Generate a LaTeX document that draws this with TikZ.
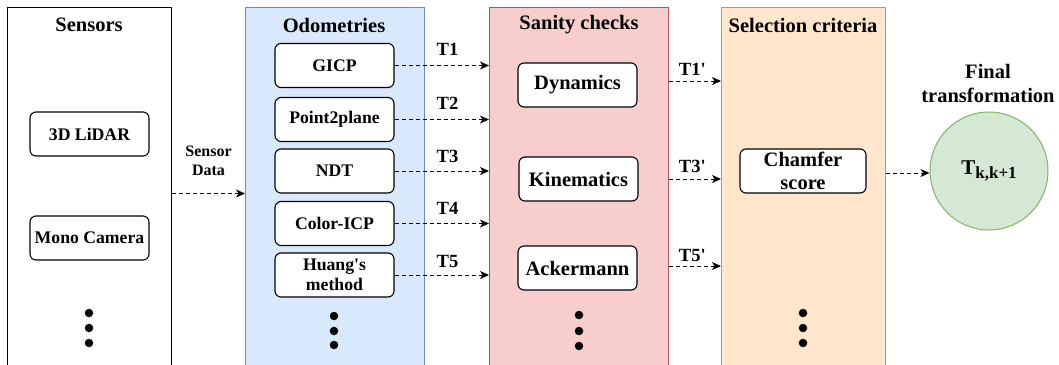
\documentclass[tikz,border=0pt]{standalone}
\usepackage{fontspec}
\setmainfont{Liberation Serif}[Ligatures=TeXOff]
\usetikzlibrary{arrows.meta}
\definecolor{bluefill}{HTML}{DAE8FC}\definecolor{bluedraw}{HTML}{6C8EBF}
\definecolor{redfill}{HTML}{F8CECC}\definecolor{reddraw}{HTML}{B85450}
\definecolor{orfill}{HTML}{FFE6CC}\definecolor{ordraw}{HTML}{D79B00}
\definecolor{grfill}{HTML}{D5E8D4}\definecolor{grdraw}{HTML}{82B366}
\tikzset{
  container/.style={draw, line width=1pt, anchor=north west, minimum height=372pt, inner sep=0pt},
  titletext/.style={font=\fontsize{20.5}{24}\selectfont\bfseries, inner sep=0pt},
  smallbox/.style={draw, line width=1.1pt, rounded corners=6pt, fill=white, minimum width=119pt, minimum height=44pt, inner sep=0pt, align=center, font=\fontsize{17.7}{20}\selectfont\bfseries},
  bigbox/.style={smallbox, font=\fontsize{20.5}{23}\selectfont\bfseries},
  arr/.style={-{Stealth[length=9pt,width=8pt,inset=2.5pt]}, dash pattern=on 4pt off 3pt, line width=1pt},
  lab/.style={font=\fontsize{18.6}{20}\selectfont\bfseries, inner sep=0pt},
  dotnode/.style={circle, fill=black, minimum size=8.5pt, inner sep=0pt}
}
\begin{document}
\begin{tikzpicture}[x=1pt, y=-1pt]
\useasboundingbox (0,0) rectangle (1059,364);
% containers
\node[container, fill=white, draw=black, minimum width=164pt] (sens) at (7,7) {};
\node[container, fill=bluefill, draw=bluedraw, minimum width=179pt] (odo) at (245,7) {};
\node[container, fill=redfill, draw=reddraw, minimum width=179pt] (san) at (489,7) {};
\node[container, fill=orfill, draw=ordraw, minimum width=164pt] (sel) at (721,7) {};
% titles
\node[titletext] (tsens) at (89,25) {Sensors};
\node[titletext] (todo) at (334,25) {Odometries};
\node[titletext] (tsan) at (579,25) {Sanity checks};
\node[titletext] (tsel) at (803,25) {Selection criteria};
% sensors
\node[smallbox] (lidar) at (89.5,134) {3D LiDAR};
\node[smallbox] (cam) at (89.5,238) {Mono Camera};
\node[dotnode] (sd1) at (89,313) {};
\node[dotnode] (sd2) at (89,328) {};
\node[dotnode] (sd3) at (89,343) {};
% odometries
\node[smallbox] (gicp) at (334.5,65.5) {GICP};
\node[smallbox] (p2p) at (334.5,119.5) {Point2plane};
\node[smallbox] (ndt) at (334.5,171) {NDT};
\node[smallbox] (cicp) at (334.5,223.5) {Color-ICP};
\node[smallbox, font=\fontsize{17.7}{20.5}\selectfont\bfseries] (huang) at (334.5,275) {Huang's\\method};
\node[dotnode] (od1) at (334,316) {};
\node[dotnode] (od2) at (334,331) {};
\node[dotnode] (od3) at (334,345) {};
% sanity
\node[bigbox] (dyn) at (577.5,85) {Dynamics};
\node[bigbox] (kin) at (578.5,179) {Kinematics};
\node[bigbox] (ack) at (577.5,268) {Ackermann};
\node[dotnode] (sa1) at (579,315) {};
\node[dotnode] (sa2) at (579,331) {};
\node[dotnode] (sa3) at (579,346) {};
% selection
\node[bigbox, minimum width=126pt] (cham) at (803,171) {Chamfer\\score};
\node[dotnode] (se1) at (803,313) {};
\node[dotnode] (se2) at (803,328) {};
\node[dotnode] (se3) at (803,343) {};
% final
\node[titletext, align=center] (tfin) at (988,83) {Final\\transformation};
\node[circle, draw=grdraw, fill=grfill, line width=1pt, minimum size=118pt, inner sep=0pt, font=\fontsize{21}{24}\selectfont\bfseries] (fin) at (989,171) {T{\fontsize{17}{20}\selectfont\raisebox{-4.5pt}{k,k+1}}};
% connectors
\draw[arr] (sens.east) -- node[font=\fontsize{16}{19}\selectfont\bfseries, align=center, above=17pt, inner sep=0pt] (sdlab) {Sensor\\Data} (odo.west);
\draw[arr] (gicp.east) -- node[lab, pos=0.56, yshift=16pt] (l1) {T1} (gicp.east -| san.west);
\draw[arr] (p2p.east) -- node[lab, pos=0.56, yshift=16pt] (l2) {T2} (p2p.east -| san.west);
\draw[arr] (ndt.east) -- node[lab, pos=0.56, yshift=15pt] (l3) {T3} (ndt.east -| san.west);
\draw[arr] (cicp.east) -- node[lab, pos=0.56, yshift=15pt] (l4) {T4} (cicp.east -| san.west);
\draw[arr] (huang.east) -- node[lab, pos=0.56, yshift=14pt] (l5) {T5} (huang.east -| san.west);
\draw[arr] ([yshift=4pt]dyn.east -| san.east) -- node[lab, pos=0.45, yshift=12pt] (m1) {T1'} ([yshift=4pt]dyn.east -| sel.west);
\draw[arr] (kin.east -| san.east) -- node[lab, pos=0.45, yshift=13pt] (m3) {T3'} (kin.east -| sel.west);
\draw[arr] ([yshift=2pt]ack.east -| san.east) -- node[lab, pos=0.45, yshift=11pt] (m5) {T5'} ([yshift=2pt]ack.east -| sel.west);
\draw[arr] ([yshift=-2pt]cham.east -| sel.east) -- ([yshift=-2pt]fin.west);
\end{tikzpicture}
\end{document}
